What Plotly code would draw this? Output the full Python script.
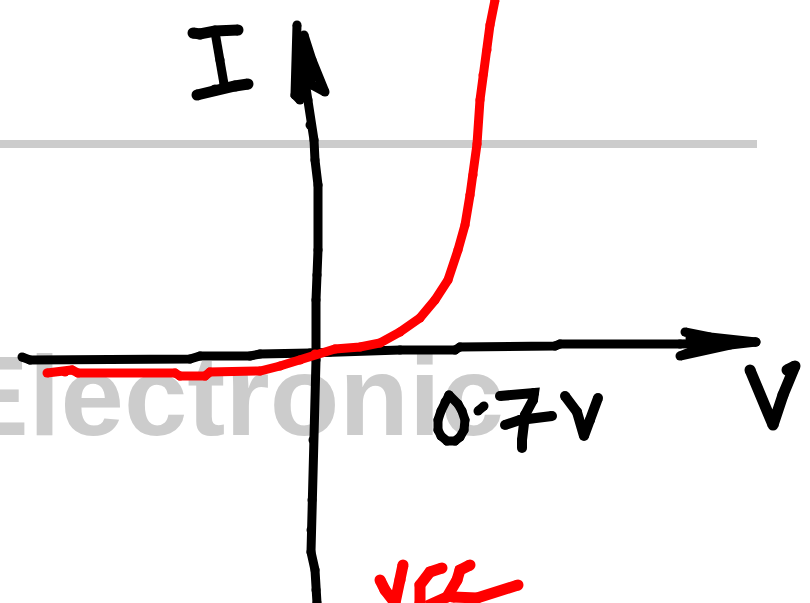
"""Hand-drawn diode I-V sketch, strokes in image pixel coordinates."""

import plotly.graph_objects as go

_BLACK = "#000000"
_RED = "#ff0000"
_GREY = "#cccccc"

grey_x = [0, 757]
grey_y = [144, 144]

v_axis_x = [304, 308, 310, 314, 315, 318, 318, 317, 316, 316, 313, 312, 311, 311, 315, 316, 317]
v_axis_y = [75, 100, 125, 140, 160, 185, 250, 275, 300, 360, 440, 500, 530, 552, 570, 590, 603]
v_head_x = [297, 295, 300, 303, 303, 304, 312, 325, 312, 306]
v_head_y = [25, 95, 100, 75, 50, 35, 60, 92, 85, 60]

h_axis_x = [22, 30, 190, 200, 250, 260, 310, 330, 400, 455, 460, 555, 560, 680, 756]
h_axis_y = [357, 360, 359, 356, 356, 354, 353, 352, 350, 350, 347, 346, 344, 344, 342]
h_head_x = [685, 710, 756, 730, 680, 695, 712, 690]
h_head_y = [332, 337, 342, 345, 356, 349, 343, 338]

i_top_x = [193, 200, 215, 238]
i_top_y = [33, 34, 31, 30]
i_stem_x = [215, 220, 224]
i_stem_y = [32, 60, 84]
i_bot_x = [197, 215, 235, 248]
i_bot_y = [95, 90, 86, 84]

v_label_x = [750, 773, 783, 795, 787]
v_label_y = [370, 425, 395, 366, 370]

zero_x = [449, 445, 441, 438, 438, 441, 447, 455, 460, 464, 465, 462, 458, 449]
zero_y = [395, 402, 411, 420, 430, 436, 441, 441, 437, 430, 420, 411, 404, 395]
dot_x = [478, 484]
dot_y = [411, 406]
seven_x = [500, 534, 533, 525, 522, 522]
seven_y = [396, 393, 400, 415, 440, 448]
seven_bar_x = [505, 520, 552]
seven_bar_y = [425, 420, 416]
volt_x = [565, 577, 584, 590, 598]
volt_y = [396, 412, 436, 420, 398]

curve_x = [47, 65, 72, 78, 175, 180, 205, 210, 260, 280, 300, 315, 335, 360, 380, 400,
           420, 435, 448, 458, 465, 470, 473, 477, 480, 483, 487, 490, 495]
curve_y = [373, 372, 370, 373, 373, 376, 376, 372, 371, 366, 360, 354, 349, 347, 343, 332,
           318, 300, 280, 250, 225, 195, 175, 144, 100, 75, 50, 25, 0]

vcc_v_x = [380, 385, 395, 400, 403]
vcc_v_y = [580, 590, 603, 580, 565]
vcc_c1_x = [442, 430, 420, 420]
vcc_c1_y = [568, 572, 585, 603]
vcc_c2_x = [470, 460, 457, 447, 427]
vcc_c2_y = [565, 570, 580, 597, 606]
vcc_tail_x = [453, 477, 518]
vcc_tail_y = [597, 598, 585]

fig = go.Figure()


def stroke(x, y, color=_BLACK, width=9):
    fig.add_trace(go.Scatter(x=x, y=y, mode="lines+markers", line=dict(color=color, width=width),
                             marker=dict(color=color, size=width), hoverinfo="skip"))


# watermark goes first so that everything is drawn over it
fig.add_trace(go.Scatter(x=[504], y=[406], mode="text", text=["Electronic"], textposition="middle left",
                         textfont=dict(family="Liberation Sans", size=114, color=_GREY, weight="bold"),
                         cliponaxis=False, hoverinfo="skip"))
fig.add_trace(go.Scatter(x=grey_x, y=grey_y, mode="lines", line=dict(color=_GREY, width=8), hoverinfo="skip"))

stroke(v_axis_x, v_axis_y)
stroke(v_head_x, v_head_y)
stroke(h_axis_x, h_axis_y)
stroke(h_head_x, h_head_y)
stroke(i_top_x, i_top_y, width=11)
stroke(i_stem_x, i_stem_y)
stroke(i_bot_x, i_bot_y, width=11)
stroke(v_label_x, v_label_y, width=11)
stroke(zero_x, zero_y)
stroke(dot_x, dot_y)
stroke(seven_x, seven_y, width=10)
stroke(seven_bar_x, seven_bar_y, width=10)
stroke(volt_x, volt_y, width=10)
stroke(curve_x, curve_y, _RED, 9)
stroke(vcc_v_x, vcc_v_y, _RED, 11)
stroke(vcc_c1_x, vcc_c1_y, _RED, 11)
stroke(vcc_c2_x, vcc_c2_y, _RED, 11)
stroke(vcc_tail_x, vcc_tail_y, _RED, 11)

fig.update_layout(
    width=810, height=603, margin=dict(l=0, r=0, t=0, b=0), showlegend=False,
    paper_bgcolor="#ffffff", plot_bgcolor="#ffffff",
    xaxis=dict(range=[0, 810], visible=False, fixedrange=True),
    yaxis=dict(range=[603, 0], visible=False, fixedrange=True),
)
# the default page margin would push the sketch 8px down and right
fig.write_html("out.html", config=dict(displayModeBar=False),
               post_script="document.body.style.margin='0';document.body.style.overflow='hidden';")
